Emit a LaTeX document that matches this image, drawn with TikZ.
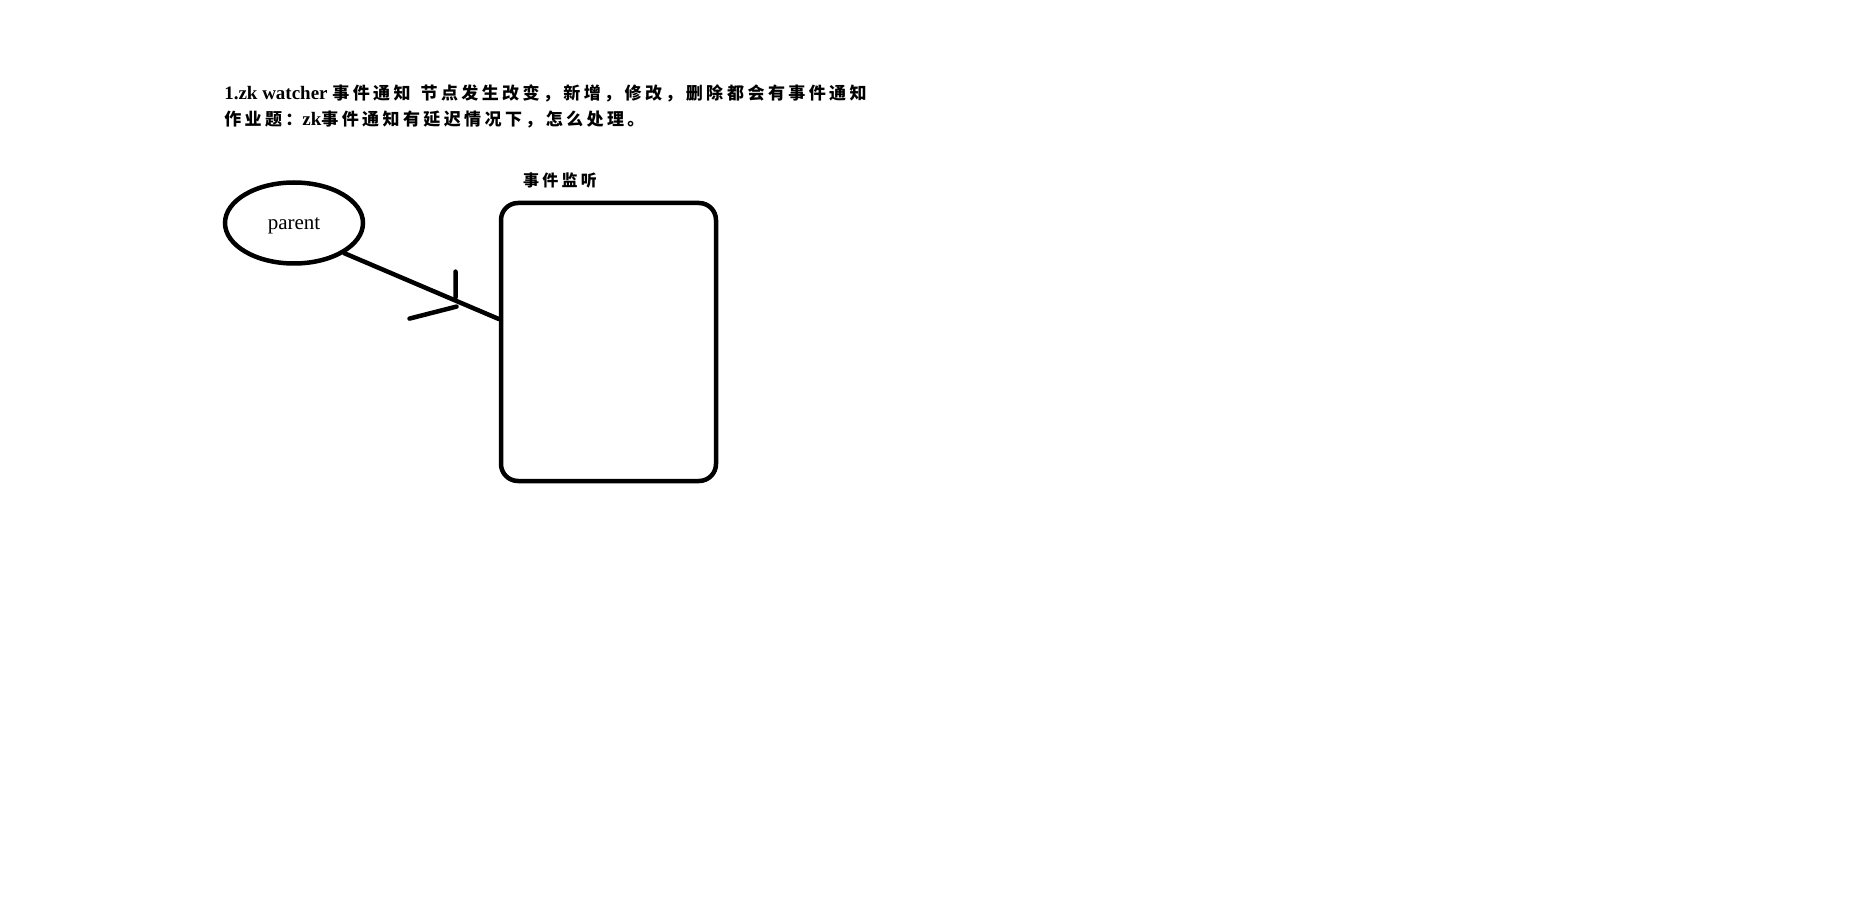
\documentclass[tikz,border=0pt]{standalone}
\usepackage{fontspec}
\setmainfont{Liberation Serif}
\newfontfamily\cjk{Noto Sans CJK SC}[LetterSpace=20]
\usetikzlibrary{shapes.geometric,calc}

\begin{document}
\begin{tikzpicture}[x=1pt,y=-1pt,line width=4.5pt,
  every node/.style={inner sep=0pt},
  title/.style={anchor=west,font=\fontsize{19}{21}\selectfont\bfseries},
  stroke/.style={line cap=round}]
\useasboundingbox (0,0) rectangle (1876,917);
\node [title] (t1) at (222,93) {1.zk watcher {\cjk\fontsize{17}{19}\selectfont 事件通知\hspace{10pt}节点发生改变，新增，修改，删除\hspace{4pt}都会有事件通知}};
\node [title] (t2) at (222,120) {{\cjk\fontsize{17}{19}\selectfont 作业题：}zk{\cjk\fontsize{17}{19}\selectfont 事件通知有延迟情况下，怎么处理。}};
% node and listener box
\node [draw,ellipse,minimum width=138pt,minimum height=81pt,
       font=\fontsize{21}{23}\selectfont] (parent) at (294,223) {\raisebox{-7pt}[0pt][0pt]{parent}\hspace{12pt}};
\node [draw,rounded corners=17pt,minimum width=215pt,minimum height=278pt] (listener) at (608.5,342) {};
\node [font=\fontsize{16}{18}\selectfont\bfseries] (lbl) at (560,181) {\cjk 事件监听};
\draw [stroke] (parent.south east) -- coordinate[pos=0.72] (tip) ($(listener.west)+(0,-23)$);
\draw [stroke] ($(tip)+(0,-29)$) -- ($(tip)+(0,-3)$)
               ($(tip)+(-46,18)$) -- ($(tip)+(1,6)$);
\end{tikzpicture}
\end{document}
